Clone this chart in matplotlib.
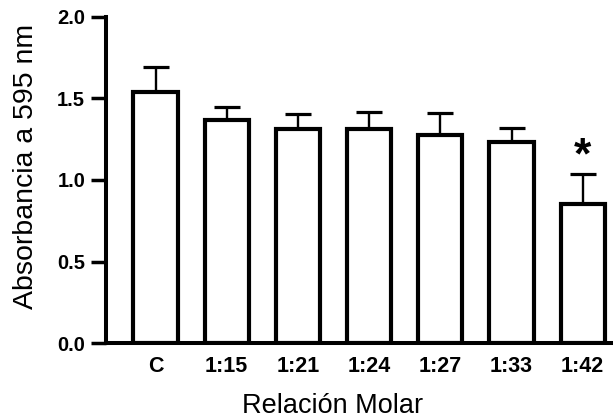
import numpy as np
import matplotlib
matplotlib.use('Agg')
import matplotlib.pyplot as plt

plt.rcParams['font.family'] = ['Liberation Sans', 'DejaVu Sans']

# data
grupos = ['C', '1:15', '1:21', '1:24', '1:27', '1:33', '1:42']
absorbancia = [1.54, 1.37, 1.315, 1.31, 1.275, 1.232, 0.855]
error_sup = [0.155, 0.078, 0.088, 0.108, 0.135, 0.085, 0.18]
signif = ['', '', '', '', '', '', '*']

fig = plt.figure(figsize=(6.13, 4.19), dpi=100)
ax = fig.add_axes([0.173, 0.181, 0.827, 0.779])

x = np.arange(len(grupos))
ceros = np.zeros(len(grupos))

ax.errorbar(x, absorbancia, yerr=[ceros, error_sup], fmt='none', ecolor='black',
            elinewidth=1.7, capsize=9.6, capthick=2.3, zorder=1)
ax.bar(x, absorbancia, width=0.62, color='white', edgecolor='black',
       linewidth=3.0, zorder=2)

for xi, yi, ei, s in zip(x, absorbancia, error_sup, signif):
    if s:
        ax.text(xi, yi + ei - 0.02, s, ha='center', va='bottom',
                fontsize=32, fontweight='bold')

ax.set_xlim(-0.695, 6.425)
ax.set_ylim(0, 2.0)
ax.set_yticks([0.0, 0.5, 1.0, 1.5, 2.0])
ax.set_yticklabels(['0.0', '0.5', '1.0', '1.5', '2.0'], fontsize=14.5, fontweight='bold')
ax.set_xticks(x)
ax.set_xticklabels(grupos, fontsize=15.5, fontweight='bold')

ax.spines['top'].set_visible(False)
ax.spines['right'].set_visible(False)
ax.spines['left'].set_linewidth(2.9)
ax.spines['bottom'].set_linewidth(2.9)
ax.tick_params(axis='y', direction='out', length=11, width=2.5, pad=4)
ax.tick_params(axis='x', length=0, pad=9)

ax.set_xlabel('Relación Molar', fontsize=19.5)
ax.set_ylabel('Absorbancia a 595 nm', fontsize=20.5)
ax.xaxis.set_label_coords(0.446, -0.153)
ax.yaxis.set_label_coords(-0.132, 0.542)

fig.savefig('out.png', dpi=100)
